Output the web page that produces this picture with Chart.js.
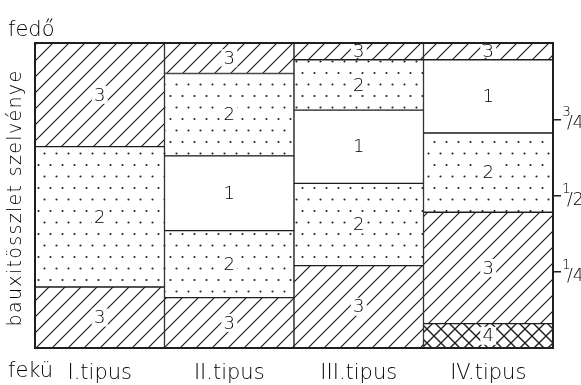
<!DOCTYPE html>
<html>
<head>
<meta charset="utf-8">
<script src="https://cdn.jsdelivr.net/npm/chart.js@4"></script>
<style>
    html, body { margin: 0; padding: 0; background: #fff; }
    #wrap { width: 581px; height: 385px; }
</style>
</head>
<body>
<div id="wrap"><canvas id="chart"></canvas></div>
<script>
// Column types and layer thickness (percent of the bauxite section), bottom to top
const categories = ['I.tipus', 'II.tipus', 'III.tipus', 'IV.tipus'];
const layer1 = [20, 16.5, 27, 8];
const layer2 = [46, 22, 27, 36.5];
const layer3 = [34, 24.5, 24, 26];
const layer4 = [null, 27, 16.5, 24];
const layer5 = [null, 10, 5.5, 5.5];
// Which rock type (1-4) each segment is
const layer1Kind = [3, 3, 3, 4];
const layer2Kind = [2, 2, 2, 3];
const layer3Kind = [3, 1, 1, 2];
const layer4Kind = [null, 2, 2, 1];
const layer5Kind = [null, 3, 3, 3];
const fractionTicks = { 25: '1/4', 50: '1/2', 75: '3/4' };

const INK = '#1e1e1e';
const TEXT = '#000';
const FONT = "'DejaVu Sans', sans-serif";
const LIGHT = '200 ';

function makePattern(w, h, draw) {
    const c = document.createElement('canvas');
    c.width = w;
    c.height = h;
    const g = c.getContext('2d');
    g.fillStyle = '#fff';
    g.fillRect(0, 0, w, h);
    g.strokeStyle = INK;
    g.fillStyle = INK;
    draw(g, w, h);
    return document.getElementById('chart').getContext('2d').createPattern(c, 'repeat');
}

const hatch = makePattern(16, 16, (g, w, h) => {
    g.lineWidth = 1.2;
    g.beginPath();
    g.moveTo(-4, h + 4); g.lineTo(w + 4, -4);
    g.moveTo(-4, 4); g.lineTo(4, -4);
    g.moveTo(w - 4, h + 4); g.lineTo(w + 4, h - 4);
    g.stroke();
});

const dots = makePattern(12, 23, (g) => {
    g.beginPath();
    g.arc(2.5, 4, 1.05, 0, Math.PI * 2);
    g.arc(8.5, 15.5, 1.05, 0, Math.PI * 2);
    g.fill();
});

const cross = makePattern(14, 14, (g, w, h) => {
    g.lineWidth = 1.4;
    g.beginPath();
    g.moveTo(-2, h + 2); g.lineTo(w + 2, -2);
    g.moveTo(-2, -2); g.lineTo(w + 2, h + 2);
    g.stroke();
});

function fillFor(kind) {
    if (kind === 1) return '#fff';
    if (kind === 2) return dots;
    if (kind === 3) return hatch;
    if (kind === 4) return cross;
    return '#fff';
}

const layers = [layer1, layer2, layer3, layer4, layer5];
const kinds = [layer1Kind, layer2Kind, layer3Kind, layer4Kind, layer5Kind];

const datasets = layers.map((data, i) => ({
    label: 'réteg ' + (i + 1),
    data: data,
    backgroundColor: kinds[i].map(fillFor),
    borderColor: INK,
    borderWidth: 1,
    borderSkipped: false,
    barPercentage: 1,
    categoryPercentage: 1
}));

// Numbers inside the segments, frame and free texts
const annotate = {
    id: 'annotate',
    afterDatasetsDraw(chart) {
        const ctx = chart.ctx;
        const area = chart.chartArea;
        ctx.save();
        ctx.font = LIGHT + '18px ' + FONT;
        ctx.textAlign = 'center';
        ctx.textBaseline = 'middle';
        chart.data.datasets.forEach((ds, i) => {
            chart.getDatasetMeta(i).data.forEach((bar, j) => {
                const kind = kinds[i][j];
                if (!kind) return;
                const p = bar.getProps(['x', 'y', 'base'], true);
                const cy = (p.y + p.base) / 2;
                if (kind !== 1) {
                    const tall = Math.min(18, Math.abs(p.base - p.y) - 4);
                    ctx.fillStyle = '#fff';
                    ctx.fillRect(p.x - 8, cy - tall / 2, 16, tall);
                }
                ctx.fillStyle = TEXT;
                ctx.fillText(String(kind), p.x, cy + 1);
            });
        });

        ctx.lineWidth = 2;
        ctx.strokeStyle = INK;
        ctx.strokeRect(area.left, area.top, area.right - area.left, area.bottom - area.top);

        // right-hand fractions
        const ys = chart.scales.y;
        ctx.fillStyle = TEXT;
        ys.ticks.forEach(t => {
            const y = ys.getPixelForValue(t.value);
            const [num, den] = fractionTicks[t.value].split('/');
            ctx.textAlign = 'left';
            ctx.textBaseline = 'alphabetic';
            ctx.font = LIGHT + '14px ' + FONT;
            ctx.fillText(num, area.right + 9, y - 3);
            ctx.font = LIGHT + '17px ' + FONT;
            ctx.fillText('/' + den, area.right + 14, y + 9);
        });

        ctx.font = LIGHT + '21px ' + FONT;
        ctx.textAlign = 'left';
        ctx.textBaseline = 'alphabetic';
        ctx.fillText('fedő', 8, 36);
        ctx.fillText('fekü', 8, 377);

        ctx.translate(16, 198);
        ctx.rotate(-Math.PI / 2);
        ctx.font = LIGHT + '19px ' + FONT;
        const title = 'bauxitösszlet szelvénye';
        const w = ctx.measureText(title).width;
        ctx.letterSpacing = ((257 - w) / title.length).toFixed(2) + 'px';
        ctx.textAlign = 'center';
        ctx.textBaseline = 'middle';
        ctx.fillText(title, 0, 0);
        ctx.restore();
    }
};

new Chart(document.getElementById('chart'), {
    type: 'bar',
    data: { labels: categories, datasets: datasets },
    options: {
        responsive: true,
        maintainAspectRatio: false,
        animation: false,
        layout: { padding: { left: 35, top: 43, right: 0, bottom: 0 } },
        plugins: { legend: { display: false }, tooltip: { enabled: false } },
        scales: {
            x: {
                stacked: true,
                grid: { display: false },
                border: { display: false },
                ticks: { color: TEXT, font: { family: FONT, size: 21, weight: '200' }, padding: 5 },
                afterFit: s => { s.height = 37; }
            },
            y: {
                stacked: true,
                position: 'right',
                min: 0,
                max: 100,
                border: { display: false },
                grid: { drawOnChartArea: false, tickLength: 8, color: INK, lineWidth: 1.5 },
                ticks: {
                    stepSize: 25,
                    color: 'rgba(0,0,0,0)',
                    callback: v => fractionTicks[v] || ''
                },
                afterBuildTicks: s => { s.ticks = s.ticks.filter(t => fractionTicks[t.value]); },
                afterFit: s => { s.width = 28; }
            }
        }
    },
    plugins: [annotate]
});
</script>
</body>
</html>
